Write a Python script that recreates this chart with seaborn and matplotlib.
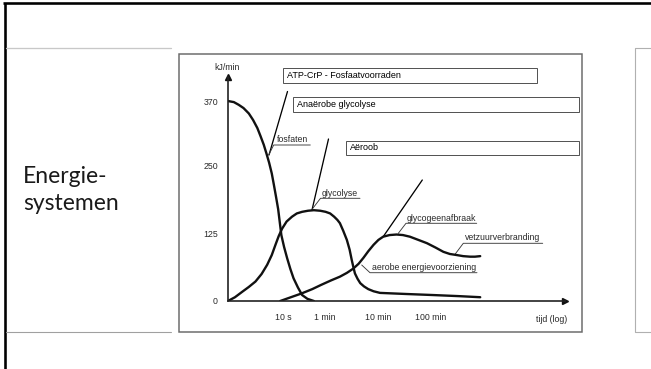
import matplotlib
matplotlib.use("Agg")
import matplotlib.pyplot as plt
import seaborn as sns
import pandas as pd

# tijd in seconden (log-as), vermogen in kJ/min
fosfaten_t = [0.93, 1.20, 1.48, 1.82, 2.29, 2.75, 3.31, 3.80, 4.37, 4.90, 5.50, 6.17, 6.76,
              7.41, 8.13, 8.71, 9.33, 10.5, 12.0, 13.8, 15.8, 19.1, 22.9, 28.8, 38.0]
fosfaten_kj = [370, 368, 363, 357, 347, 335, 320, 305, 289, 273, 256, 236, 215,
               193, 170, 146, 122, 100, 79, 59, 42, 25, 11, 4, 0]

glycolyse_t = [0.93, 1.26, 1.72, 2.29, 3.05, 3.98, 5.06, 6.17, 7.24, 8.32, 9.66, 11.7, 14.8,
               18.2, 22.9, 29.5, 38.0, 50.1, 63.1, 76.7, 91.2, 105, 117, 135, 158, 178,
               195, 209, 224, 251, 282, 331, 398, 501, 661, 2000, 6610, 20000, 50100]
glycolyse_kj = [0, 7, 17, 26, 36, 50, 67, 85, 104, 120, 134, 147, 156,
                162, 165, 167, 168, 167, 165, 162, 156, 150, 144, 130, 113, 95,
                76, 63, 51, 41, 33, 27, 22, 18, 15, 13, 11, 9, 7]

aerobe_t = [8.9, 14.1, 22.4, 35.5, 52.5, 79.4, 117, 158, 209, 263, 324, 398, 501, 617, 759,
            1000, 1350, 1780, 2400, 3470, 5010, 7240, 10200, 13500, 18200, 24000, 32400,
            39800, 50100]
aerobe_kj = [0, 7, 14, 22, 30, 38, 45, 52, 60, 69, 80, 92, 104, 113, 119,
             122, 123, 122, 119, 113, 107, 99, 91, 87, 85, 83, 82, 82, 83]

ytick_vals = [0, 125, 250, 370]
xtick_secs = [10, 60, 600, 6000]
xtick_labels = ["10 s", "1 min", "10 min", "100 min"]

box_labels = ["ATP-CrP - Fosfaatvoorraden", "Anaërobe glycolyse", "Aëroob"]
curve_labels = ["fosfaten", "glycolyse", "glycogeenafbraak", "vetzuurverbranding",
                "aerobe energievoorziening"]

sns.set_style("white")
plt.rcParams["font.family"] = ["Liberation Sans", "DejaVu Sans"]

fig = plt.figure(figsize=(6.51, 3.69), dpi=100)

# slide-achtergrond in pixelcoordinaten
bg = fig.add_axes([0, 0, 1, 1], zorder=0)
bg.set_xlim(0, 651)
bg.set_ylim(369, 0)
bg.axis("off")

px = 0.72  # pixel -> punt
bg.plot([3, 651], [3, 3], color="black", lw=2.6 * px, solid_capstyle="butt")
bg.plot([4.5, 4.5], [3, 369], color="black", lw=2.6 * px, solid_capstyle="butt")
bg.plot([6, 171], [47.7, 47.7], color="#c8c8c8", lw=1.3 * px)
bg.plot([6, 171], [332.3, 332.3], color="#a0a0a0", lw=1.1 * px)
bg.plot([651, 635, 635, 651], [48.3, 48.3, 332.3, 332.3], color="#b0b0b0", lw=1.1 * px)

bg.text(23, 183, "Energie-", family="Lato", fontsize=16.5, color="#1a1a1a", va="baseline")
bg.text(23, 210, "systemen", family="Lato", fontsize=16.5, color="#1a1a1a", va="baseline")

# kader van de afbeelding
bg.add_patch(plt.Rectangle((179.3, 53.5), 402.4, 278.8, fill=False,
                           edgecolor="#6a6a6a", lw=1.5 * px))

# tekstvakken
boxes = [(282.7, 68.3, 537.3, 83.3), (292.7, 97.3, 579.3, 112.3), (345.7, 140.7, 579.3, 155.3)]
for (x0, y0, x1, y1), lab in zip(boxes, box_labels):
    bg.add_patch(plt.Rectangle((x0, y0), x1 - x0, y1 - y0, facecolor="white",
                               edgecolor="#555555", lw=1.0 * px))
    bg.text(x0 + 4.6, (y0 + y1) / 2, lab, fontsize=6.5, color="black", va="center", ha="left")

# wijslijnen
for (xa, ya), (xb, yb) in [((287.5, 91.5), (269, 155)), ((328.5, 139), (312, 210)),
                           ((422.3, 180), (383.3, 236.5))]:
    bg.plot([xa, xb], [ya, yb], color="black", lw=1.3 * px)

# curvelabels met onderstreping
label_pos = [
    (277, 140, 273.7, 145, 310.3, (268.7, 155)),
    (322, 193.3, 320.5, 198.3, 360, (312.3, 209)),
    (407, 218.3, 406, 223.3, 476.7, (398.3, 233.3)),
    (465, 237.7, 463.3, 243.3, 542.7, (455, 254.3)),
    (371.7, 267.7, 370, 272.7, 477, (361.7, 265)),
]
for lab, (tx, ty, ux0, uy, ux1, tip) in zip(curve_labels, label_pos):
    bg.text(tx, ty, lab, fontsize=6.3, color="#2a2a2a", va="center", ha="left")
    bg.plot([tip[0], ux0, ux1], [tip[1], uy, uy], color="#3a3a3a", lw=0.9 * px)

bg.text(227.5, 67.7, "kJ/min", fontsize=6.3, color="#2a2a2a", ha="center", va="center")
bg.text(567, 319, "tijd (log)", fontsize=6.3, color="#2a2a2a", ha="right", va="center")

# grafiek
ax = fig.add_axes([227.7 / 651, 1 - 301 / 369, (565 - 227.7) / 651, (301 - 76.7) / 369], zorder=1)
ax.patch.set_alpha(0)
ax.set_xscale("log")

curves = [(fosfaten_t, fosfaten_kj), (glycolyse_t, glycolyse_kj), (aerobe_t, aerobe_kj)]
for t, kj in curves:
    df = pd.DataFrame({"t": t, "kj": kj})
    sns.lineplot(data=df, x="t", y="kj", ax=ax, color="#111111", lw=1.7,
                 sort=False, estimator=None, solid_joinstyle="round")

ax.set_xlim(0.92, 1.95e6)
ax.set_ylim(0, 415)
ax.set_xlabel("")
ax.set_ylabel("")
ax.set_xticks(xtick_secs)
ax.set_xticklabels(xtick_labels)
ax.minorticks_off()
ax.set_yticks(ytick_vals)
ax.tick_params(axis="both", direction="out", length=5, width=0.9, color="#222222",
               labelsize=6.3, labelcolor="#2a2a2a", pad=2)
ax.tick_params(axis="x", pad=3.5)
for s in ["top", "right"]:
    ax.spines[s].set_visible(False)
for s in ["left", "bottom"]:
    ax.spines[s].set_color("#222222")
    ax.spines[s].set_linewidth(1.2)
ax.plot(1, 0, ">", color="#111111", ms=5, transform=ax.transAxes, clip_on=False)
ax.plot(0, 1, "^", color="#111111", ms=5, transform=ax.transAxes, clip_on=False)

fig.savefig("out.png", dpi=100)
plt.close(fig)
